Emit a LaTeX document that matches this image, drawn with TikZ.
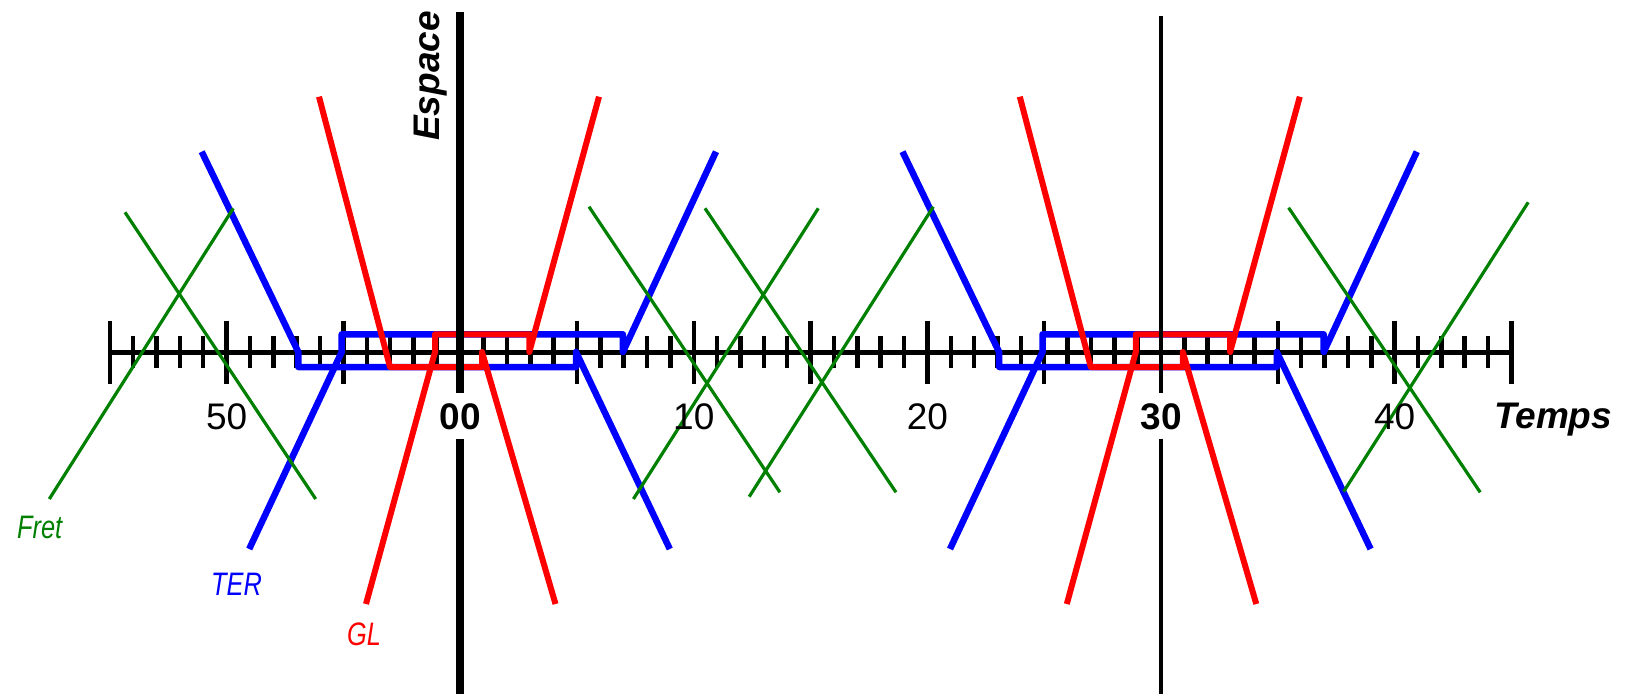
\documentclass[tikz,border=0pt]{standalone}
\usepackage{fontspec}
\setmainfont{Liberation Sans}
\newfontfamily\narrowfont[FakeStretch=0.78]{Liberation Sans}
\definecolor{fretgreen}{RGB}{0,128,0}
\definecolor{terblue}{RGB}{0,0,255}
\definecolor{glred}{RGB}{255,0,0}
\begin{document}
\begin{tikzpicture}[x=1pt,y=-1pt,line join=round,
  axisline/.style={line width=5pt,black},
  minortick/.style={line width=4.5pt,black},
  majortick/.style={line width=4.5pt,black},
  zeroline/.style={line width=7.5pt,black},
  thirtyline/.style={line width=3.3pt,black},
  terline/.style={line width=6.5pt,terblue},
  glline/.style={line width=6pt,glred},
  fretline/.style={line width=3.2pt,fretgreen},
  numlab/.style={font=\fontsize{37}{40}\selectfont,inner sep=0pt,anchor=base},
  boldlab/.style={font=\fontsize{37}{40}\selectfont\bfseries,inner xsep=2pt,inner ysep=9pt,text height=27pt,text depth=0pt,anchor=base},
  titlelab/.style={font=\fontsize{37}{40}\selectfont\bfseries\itshape,inner sep=0pt},
  trainlab/.style={font=\fontsize{32.5}{35}\selectfont\narrowfont\itshape,inner sep=0pt,anchor=base west}]
\useasboundingbox (0,0) rectangle (1628,694);
% time axis
\draw[axisline] (109.8,352) -- (1511.8,352);
\foreach \t in {-15,...,45}{
  \pgfmathtruncatemacro{\m}{mod(\t+15,5)}
  \pgfmathsetmacro{\xx}{460.2+23.36*\t}
  \ifnum\m=0
    \ifnum\t=30\relax\else
      \draw[majortick] (\xx,320.5) -- (\xx,384);
    \fi
  \else
    \draw[minortick] (\xx,336) -- (\xx,368);
  \fi
}
% TER and GL patterns around 00 and 30
\foreach \s in {0,700.8}{
\begin{scope}[xshift=\s pt]
  \draw[terline] (201.7,151.7) -- (298.3,352) -- (298.3,367) -- (576,367) -- (576,352) -- (669.8,549);
  \draw[terline] (249.2,549) -- (341.7,352) -- (341.7,334.3) -- (622.9,334.3) -- (622.9,352) -- (716,151.7);
  \draw[glline] (319,96.7) -- (390,367) -- (482,367) -- (482,352) -- (555.5,604);
  \draw[glline] (366,604) -- (435,352) -- (435,334.3) -- (529.3,334.3) -- (529.3,352) -- (599,96.7);
\end{scope}
}
% Fret
\draw[fretline] (49.3,499) -- (233.3,208.3);
\draw[fretline] (125,212.3) -- (315.7,499);
\draw[fretline] (589,206.7) -- (779.9,492.3);
\draw[fretline] (633.4,499) -- (818.3,208.3);
\draw[fretline] (705,208.3) -- (896,492.3);
\draw[fretline] (749.2,496.7) -- (933.3,206.7);
\draw[fretline] (1288.6,207.7) -- (1480.2,492.3);
\draw[fretline] (1343.6,491.7) -- (1528.2,202.3);
% labels on the time axis
\node[numlab] (n50) at (226.6,429.4) {50};
\node[numlab] (n10) at (693.8,429.4) {10};
\node[numlab] (n20) at (927.4,429.4) {20};
\node[numlab] (n40) at (1394.6,429.4) {40};
\node[boldlab] (n00) at (460.2,429.4) {00};
\node[boldlab] (n30) at (1161,429.4) {30};
% symmetry axes
\coordinate (z0top) at (460.2,12.4);
\coordinate (z0bot) at (460.2,694);
\coordinate (z30top) at (1161,15.5);
\coordinate (z30bot) at (1161,694);
\draw[zeroline] (z0top) -- (n00.north);
\draw[zeroline] (n00.south) -- (z0bot);
\draw[thirtyline] (z30top) -- (n30.north);
\draw[thirtyline] (n30.south) -- (z30bot);
% titles
\node[titlelab,anchor=base west] (temps) at (1494,428.5) {Temps};
\node[titlelab,anchor=base west,rotate=90] (espace) at (439,141) {Espace};
% legend labels
\node[trainlab,text=fretgreen] (fret) at (17,538) {Fret};
\node[trainlab,text=terblue] (ter) at (211,595) {TER};
\node[trainlab,text=glred] (gl) at (347,645) {GL};
\end{tikzpicture}
\end{document}
